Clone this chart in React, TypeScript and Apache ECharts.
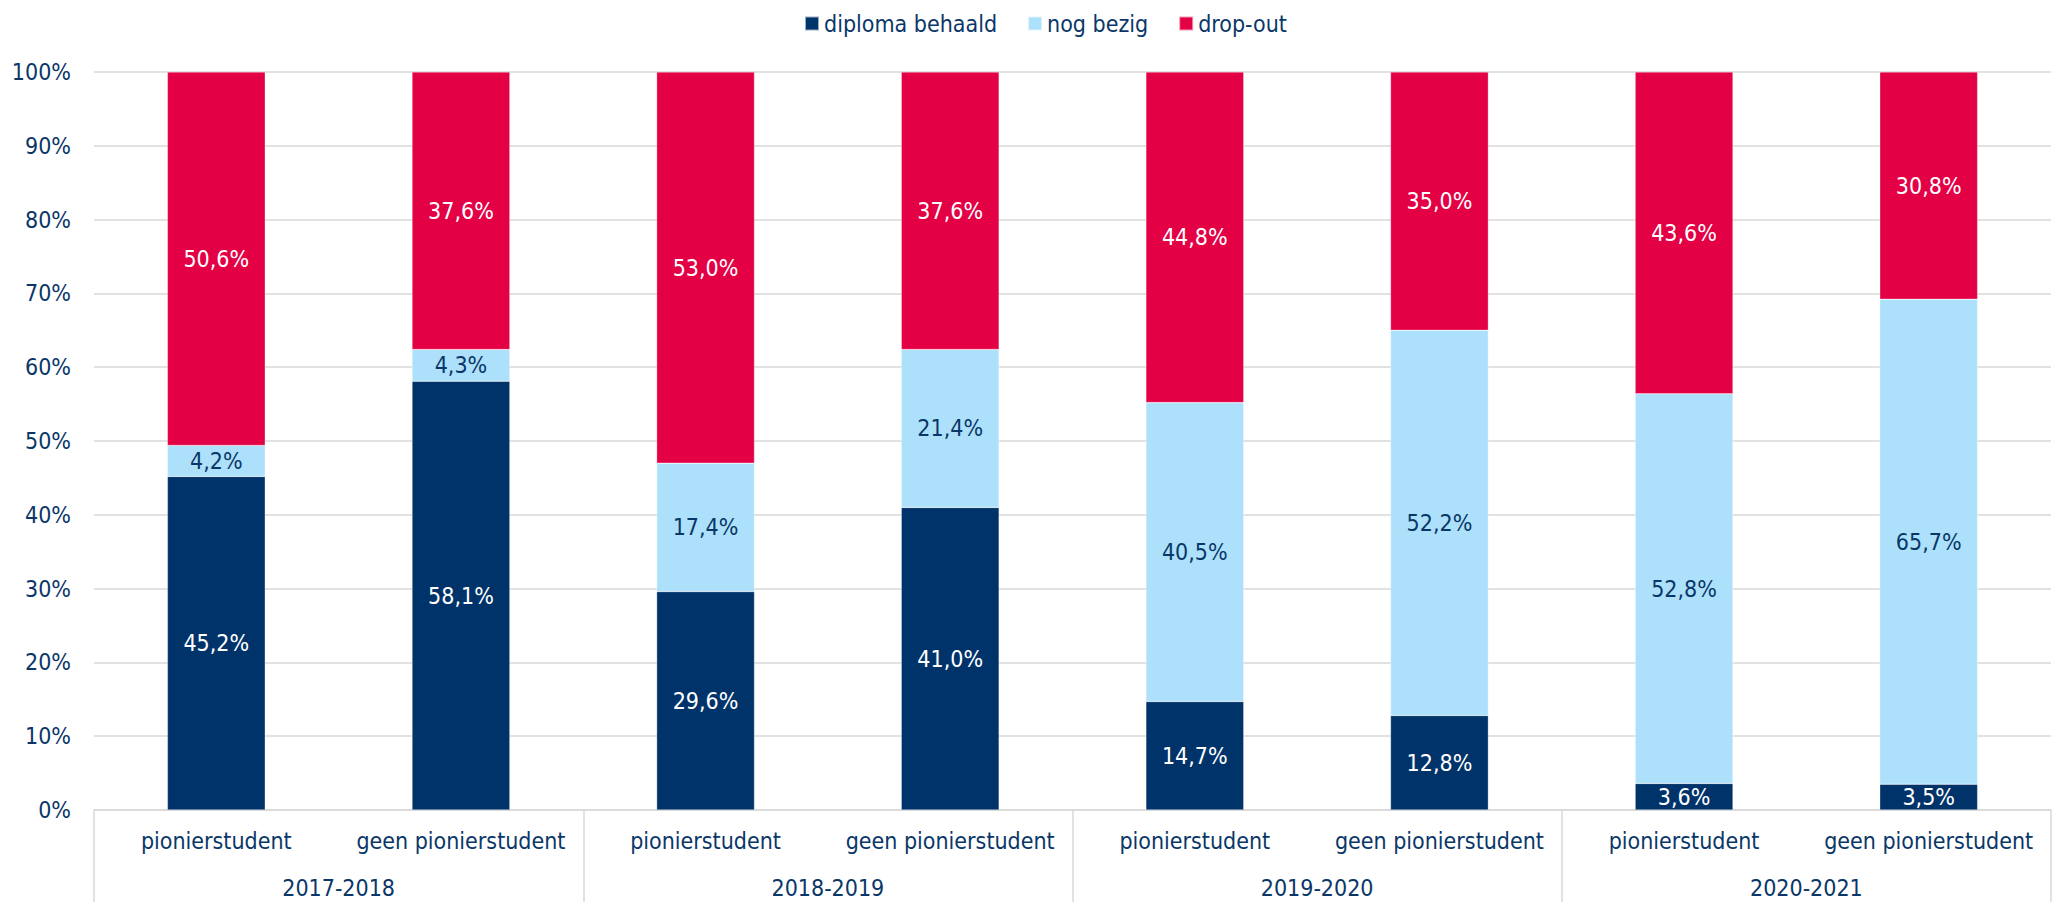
import React, { useEffect, useRef } from "react";
import * as echarts from "echarts";

const categories = [
  "pionierstudent",
  "geen pionierstudent",
  "pionierstudent",
  "geen pionierstudent",
  "pionierstudent",
  "geen pionierstudent",
  "pionierstudent",
  "geen pionierstudent",
];
const groups = ["2017-2018", "2018-2019", "2019-2020", "2020-2021"];
const diploma = [45.2, 58.1, 29.6, 41.0, 14.7, 12.8, 3.6, 3.5];
const nogBezig = [4.2, 4.3, 17.4, 21.4, 40.5, 52.2, 52.8, 65.7];
const dropOut = [50.6, 37.6, 53.0, 37.6, 44.8, 35.0, 43.6, 30.8];

const NAVY = "#00336A";
const LIGHT = "#ADE1FB";
const RED = "#E30045";
const TEXT = "#0A3768";
const GRID = "#D9D9D9";
const FONT = '"DejaVu Sans Condensed", "DejaVu Sans", sans-serif';
const FS = 23;

const fmt = (p: any) => String(p.value.toFixed(1)).replace(".", ",") + "%";

export default function App() {
  const ref = useRef<HTMLDivElement>(null);
  useEffect(() => {
    if (!ref.current) return;
    const chart = echarts.init(ref.current, undefined, { renderer: "svg" });
    const mkSeries = (name: string, data: number[], color: string, labelColor: string) => ({
      name,
      type: "bar",
      stack: "total",
      data,
      barCategoryGap: "60%",
      itemStyle: { color, borderColor: "rgba(255,255,255,0.6)", borderWidth: 0.5 },
      label: {
        show: true,
        position: "inside",
        formatter: fmt,
        color: labelColor,
        fontFamily: FONT,
        fontSize: FS,
      },
    });
    chart.setOption({
      animation: false,
      textStyle: { fontFamily: FONT },
      legend: {
        top: 7,
        left: 799,
        itemWidth: 14,
        itemHeight: 14,
        itemGap: 30,
        icon: "rect",
        textStyle: { color: TEXT, fontSize: FS, fontFamily: FONT },
        data: ["diploma behaald", "nog bezig", "drop-out"],
      },
      grid: { left: 94, right: 11, top: 72, bottom: 92, containLabel: false },
      xAxis: [
        {
          type: "category",
          data: categories,
          position: "bottom",
          axisLine: { show: true, lineStyle: { color: GRID, width: 1.5 } },
          axisTick: { show: false },
          axisLabel: { color: TEXT, fontSize: FS, fontFamily: FONT, margin: 19, interval: 0 },
        },
        {
          type: "category",
          data: groups,
          position: "bottom",
          axisLine: { show: false },
          axisTick: { show: true, length: 92, lineStyle: { color: GRID, width: 1.5 } },
          axisLabel: { color: TEXT, fontSize: FS, fontFamily: FONT, margin: 66, interval: 0 },
        },
      ],
      yAxis: {
        type: "value",
        min: 0,
        max: 100,
        interval: 10,
        axisLine: { show: false },
        axisTick: { show: false },
        axisLabel: { formatter: "{value}%", color: TEXT, fontSize: FS, fontFamily: FONT, margin: 23 },
        splitLine: { lineStyle: { color: GRID, width: 1.5 } },
      },
      series: [
        mkSeries("diploma behaald", diploma, NAVY, "#FFFFFF"),
        mkSeries("nog bezig", nogBezig, LIGHT, TEXT),
        mkSeries("drop-out", dropOut, RED, "#FFFFFF"),
      ],
    });
    return () => chart.dispose();
  }, []);
  return (
    <div
      ref={ref}
      style={{ position: "fixed", left: 0, top: 0, width: 2062, height: 902, background: "#fff" }}
    />
  );
}
